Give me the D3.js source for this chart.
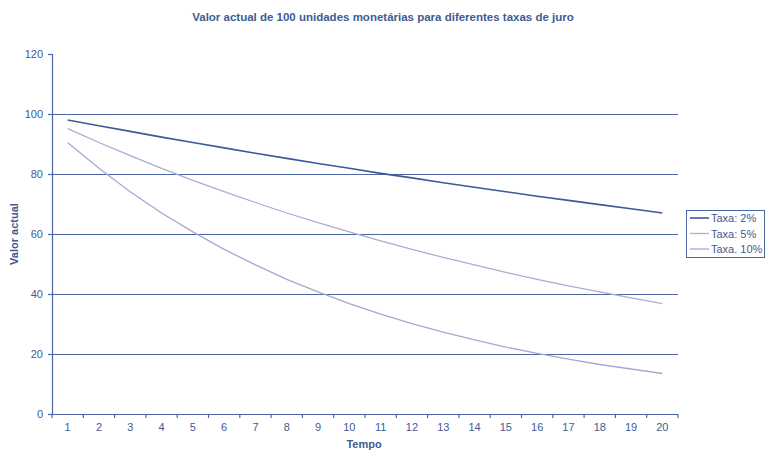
<!DOCTYPE html>
<html>
<head>
<meta charset="utf-8">
<script src="https://cdn.jsdelivr.net/npm/d3@7"></script>
<style>
  body { margin: 0; background: #fff; }
  text { font-family: "Liberation Sans", Arial, sans-serif; fill: #3f5b92; }
</style>
</head>
<body>
<div id="chart"></div>
<script>
// periods and present value of 100 for each rate
const periods = [1, 2, 3, 4, 5, 6, 7, 8, 9, 10, 11, 12, 13, 14, 15, 16, 17, 18, 19, 20]
const taxa2 = [98.0, 96.1, 94.2, 92.3, 90.5, 88.7, 86.9, 85.2, 83.5, 81.9, 80.2, 78.7, 77.1, 75.6, 74.1, 72.6, 71.2, 69.8, 68.4, 67.0]
const taxa5 = [95.1, 90.5, 86.1, 81.9, 77.9, 74.1, 70.5, 67.0, 63.8, 60.7, 57.7, 54.9, 52.2, 49.7, 47.2, 44.9, 42.7, 40.7, 38.7, 36.8]
const taxa10 = [90.5, 81.9, 74.1, 67.0, 60.7, 54.9, 49.7, 44.9, 40.7, 36.8, 33.3, 30.1, 27.3, 24.7, 22.3, 20.2, 18.3, 16.5, 15.0, 13.5]
const seriesNames = ["Taxa: 2%", "Taxa: 5%", "Taxa. 10%"]
const yTicks = [0, 20, 40, 60, 80, 100, 120]

const series = [
  { name: seriesNames[0], values: taxa2, color: "#3b5a96", width: 1.6 },
  { name: seriesNames[1], values: taxa5, color: "#a9aed2", width: 1.3 },
  { name: seriesNames[2], values: taxa10, color: "#a4a9d2", width: 1.3 }
]

const W = 765, H = 451
const margin = { top: 54, right: 87, bottom: 37, left: 52 },
  w = W - margin.left - margin.right,
  h = H - margin.top - margin.bottom
const axisColor = "#4a67a3"

const svg = d3.select("#chart")
  .append("svg")
  .attr("width", W)
  .attr("height", H)

const g = svg.append("g")
  .attr("transform", `translate(${margin.left}, ${margin.top})`)

const x = d3.scaleBand()
  .domain(periods)
  .range([0, w])
const y = d3.scaleLinear()
  .domain([0, 120])
  .range([h, 0])

// gridlines
g.append("g")
  .selectAll("line")
  .data(yTicks.filter(d => d > 0 && d < 120))
  .join("line")
  .attr("x1", 0)
  .attr("x2", w)
  .attr("y1", d => Math.round(y(d)) + 0.5)
  .attr("y2", d => Math.round(y(d)) + 0.5)
  .attr("stroke", axisColor)
  .attr("stroke-width", 1.2)

// y axis
const yAxis = g.append("g")
  .call(d3.axisLeft(y).tickValues(yTicks).tickSize(4).tickPadding(5))
yAxis.selectAll("path, line").attr("stroke", axisColor).attr("stroke-width", 1.2)
yAxis.selectAll("text").style("font-size", "11px").attr("fill", "#3f5b92")
yAxis.select("path").attr("d", `M-4,0.5H0.5V${h}`)

// x axis: ticks between categories
const xAxis = g.append("g")
  .attr("transform", `translate(0, ${h})`)
  .call(d3.axisBottom(x).tickSize(0).tickPadding(9))
xAxis.select("path").attr("stroke", axisColor).attr("stroke-width", 1.2).attr("d", `M0,0.5H${w}`)
xAxis.selectAll("text").style("font-size", "11px").attr("fill", "#3f5b92")
xAxis.append("g")
  .selectAll("line")
  .data(periods.concat([periods.length + 1]))
  .join("line")
  .attr("x1", (d, i) => i * x.step())
  .attr("x2", (d, i) => i * x.step())
  .attr("y1", 0)
  .attr("y2", 4)
  .attr("stroke", axisColor)
  .attr("stroke-width", 1.2)

// lines
const line = d3.line()
  .x((d, i) => x(periods[i]) + x.bandwidth() / 2)
  .y(d => y(d))

g.append("g")
  .selectAll("path")
  .data(series.slice().reverse())
  .join("path")
  .attr("d", d => line(d.values))
  .attr("fill", "none")
  .attr("stroke", d => d.color)
  .attr("stroke-width", d => d.width)

// title
svg.append("text")
  .attr("x", 383)
  .attr("y", 21)
  .attr("text-anchor", "middle")
  .style("font-size", "11.5px")
  .style("font-weight", "bold")
  .text("Valor actual de 100 unidades monetárias para diferentes taxas de juro")

// axis titles
svg.append("text")
  .attr("transform", "translate(18, 234) rotate(-90)")
  .attr("text-anchor", "middle")
  .style("font-size", "11px")
  .style("font-weight", "bold")
  .text("Valor actual")

svg.append("text")
  .attr("x", 364)
  .attr("y", 448)
  .attr("text-anchor", "middle")
  .style("font-size", "11px")
  .style("font-weight", "bold")
  .text("Tempo")

// legend
const legend = svg.append("g").attr("transform", "translate(686, 210)")
legend.append("rect")
  .attr("x", 0.5)
  .attr("y", 0.5)
  .attr("width", 78)
  .attr("height", 47)
  .attr("fill", "#fff")
  .attr("stroke", axisColor)
  .attr("stroke-width", 1)
const item = legend.selectAll(".item")
  .data(series)
  .join("g")
  .attr("class", "item")
  .attr("transform", (d, i) => `translate(0, ${8 + i * 15.5})`)
item.append("line")
  .attr("x1", 4)
  .attr("x2", 23)
  .attr("y1", 0)
  .attr("y2", 0)
  .attr("stroke", d => d.color)
  .attr("stroke-width", d => d.width)
item.append("text")
  .attr("x", 25)
  .attr("y", 4)
  .style("font-size", "11px")
  .text(d => d.name)
</script>
</body>
</html>
